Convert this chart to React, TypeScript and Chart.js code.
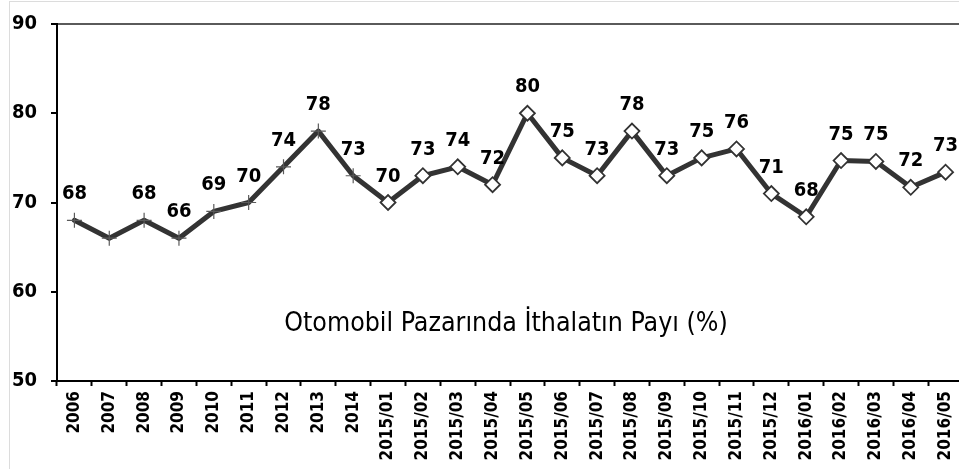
import React, { useEffect, useRef } from 'react';
import { Chart, registerables } from 'chart.js';

Chart.register(...registerables);

// ---- data ----
const categories = [
  '2006', '2007', '2008', '2009', '2010', '2011', '2012', '2013', '2014',
  '2015/01', '2015/02', '2015/03', '2015/04', '2015/05', '2015/06', '2015/07',
  '2015/08', '2015/09', '2015/10', '2015/11', '2015/12',
  '2016/01', '2016/02', '2016/03', '2016/04', '2016/05',
];
const importShare = [
  68, 66, 68, 66, 69, 70, 74, 78, 73,
  70, 73, 74, 72, 80, 75, 73, 78, 73, 75, 76, 71,
  68.4, 74.7, 74.6, 71.7, 73.4,
];
const valueLabels = [
  '68', '', '68', '66', '69', '70', '74', '78', '73',
  '70', '73', '74', '72', '80', '75', '73', '78', '73', '75', '76', '71',
  '68', '75', '75', '72', '73',
];
const yTicks = [50, 60, 70, 80, 90];
const chartTitle = 'Otomobil Pazarında İthalatın Payı (%)';

const FONT = '"DejaVu Sans Condensed", "DejaVu Sans", sans-serif';

const overlayPlugin = {
  id: 'overlay',
  afterDatasetsDraw(chart: any) {
    const ctx = chart.ctx;
    const meta = chart.getDatasetMeta(0);
    ctx.save();
    ctx.font = `bold 20px ${FONT}`;
    ctx.fillStyle = '#000';
    ctx.textAlign = 'center';
    ctx.textBaseline = 'alphabetic';
    meta.data.forEach((pt: any, i: number) => {
      const txt = valueLabels[i];
      if (!txt) return;
      ctx.fillText(txt, pt.x, pt.y - 21);
    });
    const { left, right, top, bottom } = chart.chartArea;
    ctx.font = `26.5px ${FONT}`;
    ctx.textBaseline = 'middle';
    ctx.fillText(chartTitle, (left + right) / 2 - 4, top + (bottom - top) * 0.842);
    ctx.restore();
  },
};

export default function App() {
  const ref = useRef<HTMLCanvasElement | null>(null);

  useEffect(() => {
    if (!ref.current) return;
    const isMonthly = (c: any) => String(categories[c.dataIndex]).includes('/');
    const chart = new Chart(ref.current, {
      type: 'line',
      data: {
        labels: categories,
        datasets: [
          {
            data: importShare,
            borderColor: '#333333',
            borderWidth: 5,
            borderJoinStyle: 'round',
            borderCapStyle: 'round',
            tension: 0,
            pointStyle: (c: any) => (isMonthly(c) ? 'rectRot' : 'cross'),
            pointRadius: 7.5,
            pointBorderWidth: (c: any) => (isMonthly(c) ? 1.8 : 1.2),
            pointBackgroundColor: '#ffffff',
            pointBorderColor: (c: any) => (isMonthly(c) ? '#333333' : '#5a5a5a'),
          },
        ],
      },
      options: {
        responsive: false,
        animation: false,
        events: [],
        layout: { padding: { top: 22, right: 22, left: 0, bottom: 0 } },
        plugins: {
          legend: { display: false },
          tooltip: { enabled: false },
          title: { display: false },
        },
        scales: {
          x: {
            type: 'category',
            offset: true,
            grid: {
              offset: true,
              drawOnChartArea: false,
              drawTicks: true,
              tickLength: 5,
              tickColor: '#000',
              tickWidth: 2,
            },
            border: { display: true, color: '#000', width: 2 },
            ticks: {
              autoSkip: false,
              minRotation: 90,
              maxRotation: 90,
              padding: 5,
              color: '#000',
              font: { family: FONT, size: 17, weight: 'bold' },
            },
            afterFit: (s: any) => {
              s.height = 88;
            },
          },
          y: {
            min: 50,
            max: 90,
            afterBuildTicks: (s: any) => {
              s.ticks = yTicks.map((v) => ({ value: v }));
            },
            grid: {
              drawOnChartArea: true,
              color: (c: any) => (c.tick && c.tick.value === 90 ? '#5a5a5a' : 'rgba(0,0,0,0)'),
              lineWidth: 2,
              tickColor: '#000',
              tickWidth: 2,
              tickLength: 6,
            },
            border: { display: true, color: '#000', width: 2 },
            ticks: {
              padding: 14,
              color: '#000',
              font: { family: FONT, size: 20, weight: 'bold' },
            },
            afterFit: (s: any) => {
              s.width = 47;
              s.paddingTop = 0;
              s.paddingBottom = 0;
            },
          },
        },
      },
      plugins: [overlayPlugin],
    } as any);
    return () => chart.destroy();
  }, []);

  return (
    <div style={{ position: 'fixed', left: 0, top: 0, width: 959, height: 469, overflow: 'hidden', background: '#fff' }}>
      <div
        style={{
          position: 'absolute',
          left: 9,
          top: 1,
          width: 1000,
          height: 520,
          borderLeft: '1px solid #dcdcdc',
          borderTop: '1px solid #dcdcdc',
        }}
      >
        <canvas ref={ref} width={975} height={467} style={{ display: 'block' }} />
      </div>
    </div>
  );
}
